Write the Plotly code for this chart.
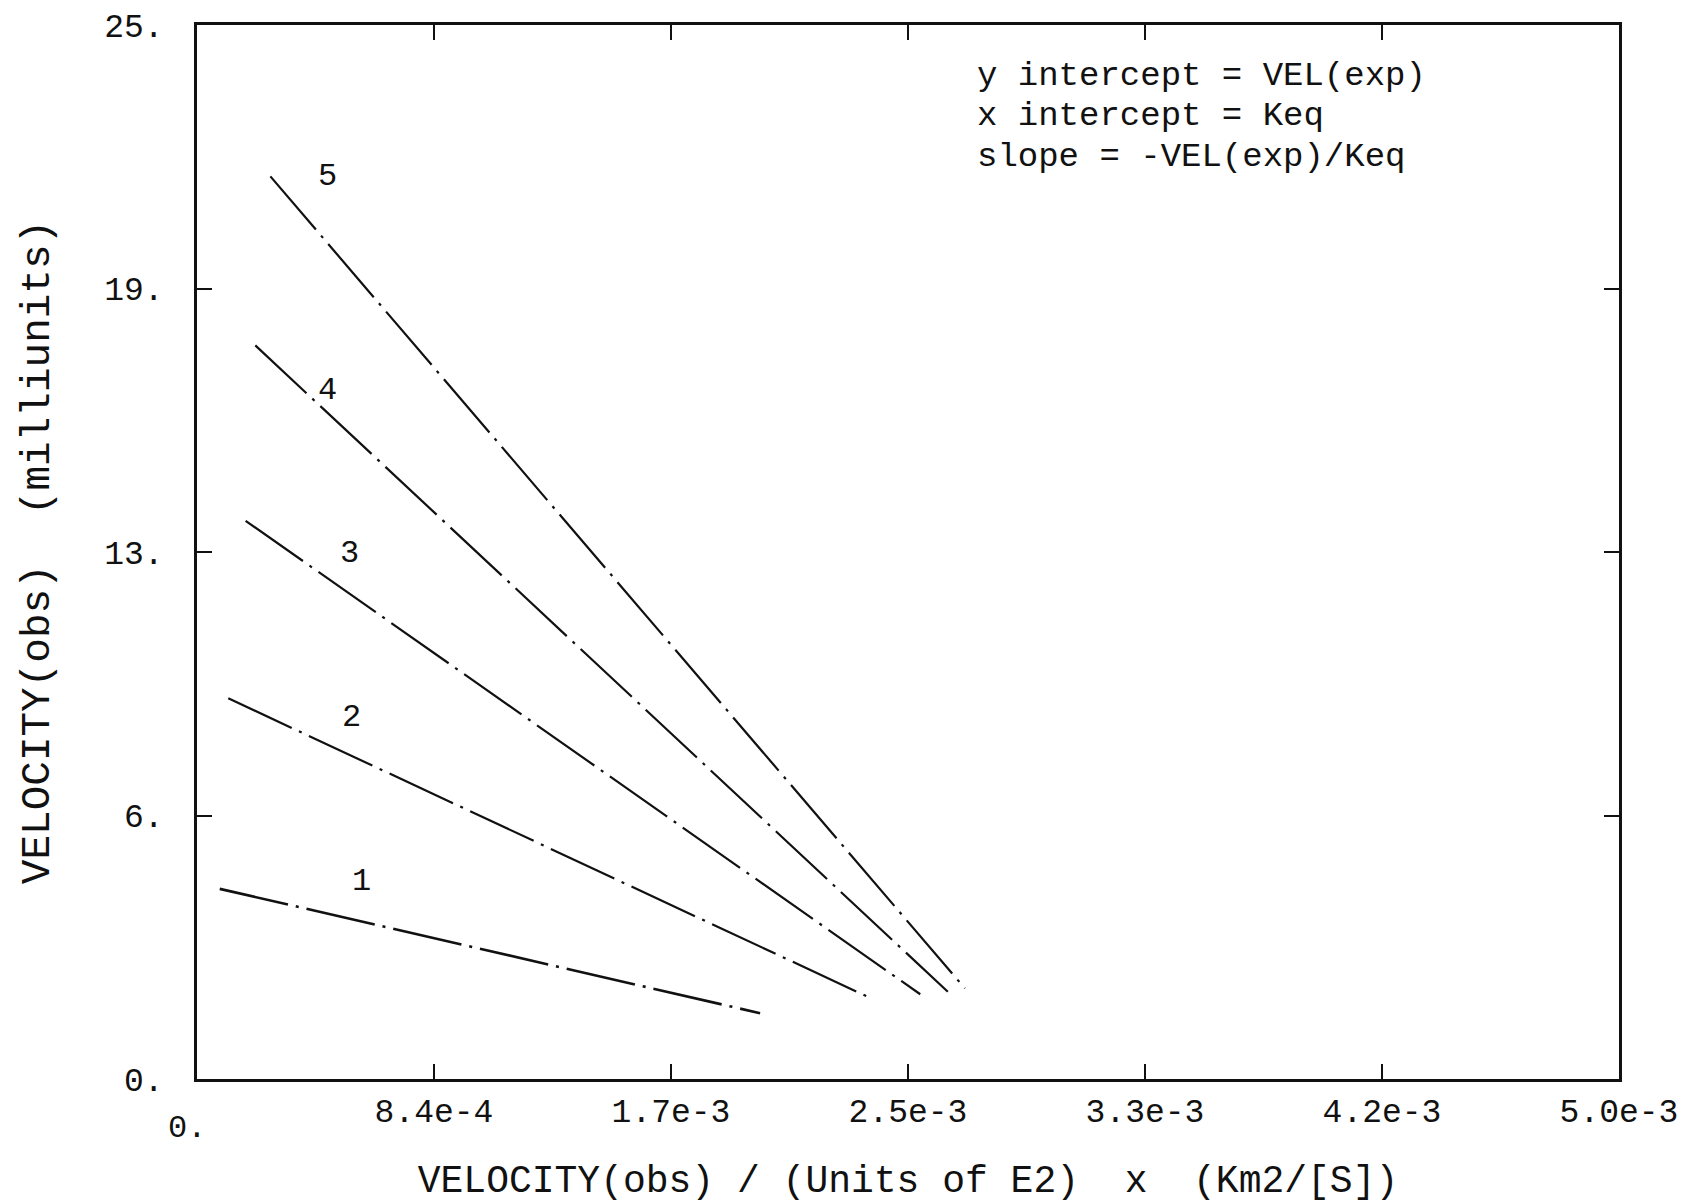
import plotly.graph_objects as go

# Five velocity lines: (x, y) endpoints of each fitted line
series_names = ["1", "2", "3", "4", "5"]
x_start = [8.0e-5, 1.10e-4, 1.71e-4, 2.05e-4, 2.58e-4]
x_end = [1.98e-3, 2.374e-3, 2.543e-3, 2.64e-3, 2.70e-3]
y_start = [4.51, 9.03, 13.24, 17.40, 21.41]
y_end = [1.56, 1.90, 2.01, 2.07, 2.15]

# Position of the number label beside each line
label_x = [5.78e-4, 5.44e-4, 5.36e-4, 4.60e-4, 4.60e-4]
label_y = [4.69, 8.57, 12.47, 16.33, 21.41]

# Axis ticks
x_tick_vals = [5.0e-3 * k / 6 for k in range(1, 7)]
x_tick_text = ["8.4e-4", "1.7e-3", "2.5e-3", "3.3e-3", "4.2e-3", "5.0e-3"]
y_tick_vals = [0, 6.25, 12.5, 18.75, 25]
y_tick_text = ["0.", "6.", "13.", "19.", "25."]

note_lines = ["y intercept = VEL(exp)", "x intercept = Keq", "slope = -VEL(exp)/Keq"]
note_y = [23.79, 22.84, 21.87]

FONT = "Liberation Mono"
INK = "#111111"

fig = go.Figure()
for i, name in enumerate(series_names):
    fig.add_trace(go.Scatter(
        x=[x_start[i], x_end[i]],
        y=[y_start[i], y_end[i]],
        mode="lines",
        name=name,
        line=dict(color=INK, width=2.6 if i == 0 else 2.2, dash="70px,8px,3px,8px"),
        showlegend=False,
    ))
    fig.add_annotation(x=label_x[i], y=label_y[i], text=series_names[i], showarrow=False,
                       xanchor="center", yanchor="middle",
                       font=dict(family=FONT, size=32, color=INK))

for txt, yy in zip(note_lines, note_y):
    fig.add_annotation(x=2.735e-3, y=yy, text=txt, showarrow=False,
                       xanchor="left", yanchor="middle",
                       font=dict(family=FONT, size=34, color=INK))

# Origin label under the x axis
fig.add_annotation(x=0, y=0, xref="x", yref="y", text="0.", showarrow=False,
                   xanchor="center", yanchor="top", xshift=-10, yshift=-29,
                   font=dict(family=FONT, size=32, color=INK))

axis_common = dict(
    showgrid=False, zeroline=False, showline=True, linecolor=INK, linewidth=2.5,
    mirror="ticks", ticks="inside", ticklen=15, tickwidth=2, tickcolor=INK,
    tickfont=dict(family=FONT, size=33, color=INK), automargin=False,
)

fig.update_xaxes(
    range=[0, 5.0e-3], tickmode="array", tickvals=x_tick_vals, ticktext=x_tick_text,
    ticklabelstandoff=1,
    title=dict(text="VELOCITY(obs) / (Units of E2)  x  (Km2/[S])",
               font=dict(family=FONT, size=38, color=INK), standoff=35),
    **axis_common,
)
fig.update_yaxes(
    range=[0, 25], tickmode="array", tickvals=y_tick_vals, ticktext=y_tick_text,
    ticklabelstandoff=24,
    title=dict(text="VELOCITY(obs)  (milliunits)",
               font=dict(family=FONT, size=41, color=INK), standoff=42),
    **axis_common,
)

fig.update_layout(
    width=1699, height=1203,
    margin=dict(l=197, r=80, t=25, b=124),
    plot_bgcolor="white", paper_bgcolor="white",
)

fig.write_html("out.html")
